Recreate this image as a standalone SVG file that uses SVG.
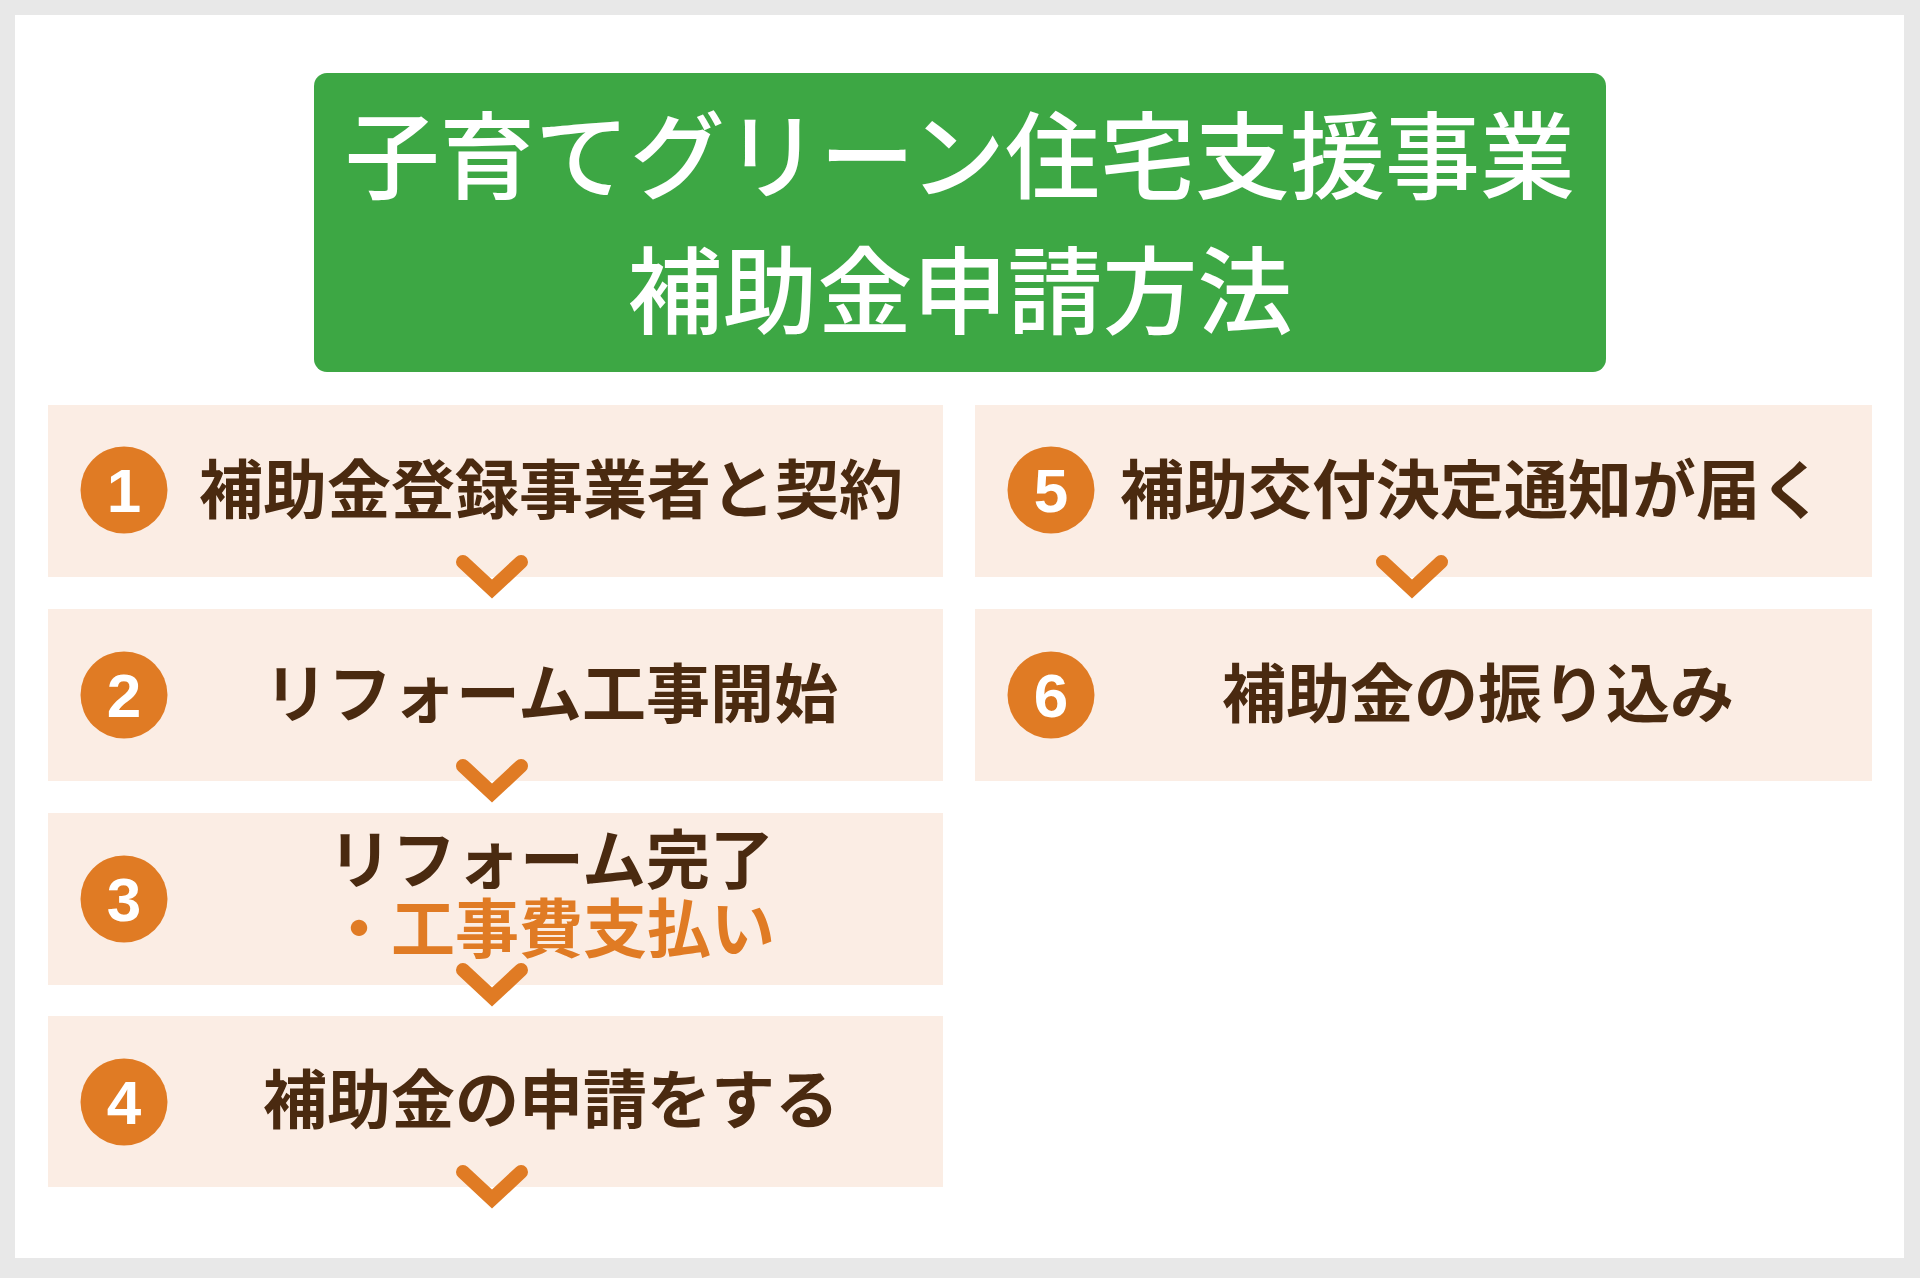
<svg xmlns="http://www.w3.org/2000/svg" xmlns:xlink="http://www.w3.org/1999/xlink" width="1920" height="1278" viewBox="0 0 1920 1278">
<style>
.box{fill:#fbede4}
.num{fill:#e07b24}
.digit{fill:#ffffff;font-family:"Liberation Sans","Noto Sans",sans-serif;font-weight:700;font-size:62px;text-anchor:middle}
.lbl{fill:#4a2a10;font-family:"Noto Sans CJK JP","Noto Sans CJK SC",sans-serif;font-weight:700;font-size:64px;text-anchor:middle}
.hl{fill:#e07b24}
.title{fill:#ffffff;font-family:"Noto Sans CJK JP","Noto Sans CJK SC",sans-serif;font-weight:500;font-size:95px;text-anchor:middle}
.chev{fill:none;stroke:#e07b24;stroke-width:14;stroke-linecap:round;stroke-linejoin:miter;stroke-miterlimit:4}
</style>
<defs>
<path id="chevron" d="M-29,-15 L0,12 L29,-15"/>
</defs>
<rect x="0" y="0" width="1920" height="1278" fill="#e8e8e8"/>
<rect x="15" y="15" width="1889" height="1243" fill="#ffffff"/>
<g id="title">
<rect x="314" y="73" width="1292" height="299" rx="13" fill="#3da744"/>
<text class="title" x="960" y="192">子育てグリーン住宅支援事業</text>
<text class="title" x="960" y="327">補助金申請方法</text>
</g>
<g id="step1">
<rect class="box" x="48" y="405" width="895" height="172"/>
<circle class="num" cx="124" cy="490" r="43.5"/>
<text class="digit" x="124" y="512">1</text>
<text class="lbl" x="551" y="513">補助金登録事業者と契約</text>
</g>
<g id="step2">
<rect class="box" x="48" y="609" width="895" height="172"/>
<circle class="num" cx="124" cy="695" r="43.5"/>
<text class="digit" x="124" y="717">2</text>
<text class="lbl" x="551" y="717">リフォーム工事開始</text>
</g>
<g id="step3">
<rect class="box" x="48" y="813" width="895" height="172"/>
<circle class="num" cx="124" cy="899" r="43.5"/>
<text class="digit" x="124" y="921">3</text>
<text class="lbl" x="551" y="883">リフォーム完了</text>
<text class="lbl hl" x="551" y="952">・工事費支払い</text>
</g>
<g id="step4">
<rect class="box" x="48" y="1016" width="895" height="171"/>
<circle class="num" cx="124" cy="1102" r="43.5"/>
<text class="digit" x="124" y="1124">4</text>
<text class="lbl" x="551" y="1123">補助金の申請をする</text>
</g>
<g id="step5">
<rect class="box" x="975" y="405" width="897" height="172"/>
<circle class="num" cx="1051" cy="490" r="43.5"/>
<text class="digit" x="1051" y="512">5</text>
<text class="lbl" x="1472" y="513">補助交付決定通知が届く</text>
</g>
<g id="step6">
<rect class="box" x="975" y="609" width="897" height="172"/>
<circle class="num" cx="1051" cy="695" r="43.5"/>
<text class="digit" x="1051" y="717">6</text>
<text class="lbl" x="1478" y="717">補助金の振り込み</text>
</g>
<g id="connectors" class="chev">
<use xlink:href="#chevron" href="#chevron" x="492" y="577"/>
<use xlink:href="#chevron" href="#chevron" x="492" y="781"/>
<use xlink:href="#chevron" href="#chevron" x="492" y="985"/>
<use xlink:href="#chevron" href="#chevron" x="492" y="1187"/>
<use xlink:href="#chevron" href="#chevron" x="1412" y="577"/>
</g>
</svg>
